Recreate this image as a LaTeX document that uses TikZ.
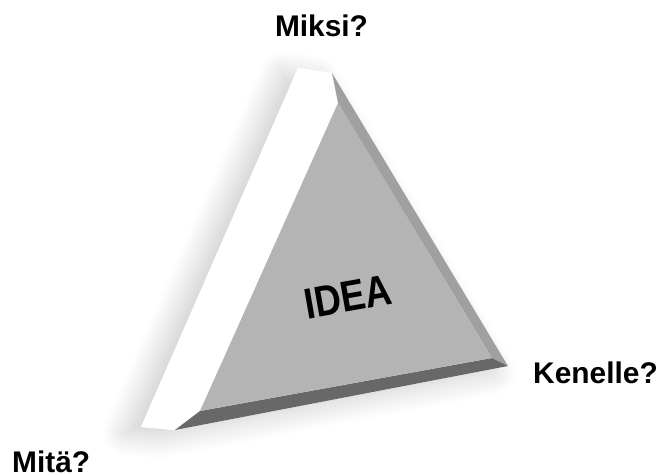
\documentclass[tikz,border=0pt]{standalone}
\usepackage{fontspec}
\setmainfont{Liberation Sans}
\usepackage{xcolor}
\usepackage{tikz}
\usetikzlibrary{shadows.blur}

\definecolor{facegray}{HTML}{B4B4B4}
\definecolor{rimgray}{HTML}{A0A0A0}
\definecolor{rimdark}{HTML}{686868}

\begin{document}
\begin{tikzpicture}[x=0.03cm,y=-0.03cm,every node/.style={font=\bfseries\fontsize{25.5}{30}\selectfont,inner sep=0pt}]
  \useasboundingbox (0,0) rectangle (666,475);
  % outer rim
  \coordinate (ta) at (298,68);
  \coordinate (tb) at (332,73);
  \coordinate (rr) at (508,366);
  \coordinate (bb) at (175,430);
  \coordinate (ba) at (141,427);
  % inner face
  \coordinate (it) at (338,103);
  \coordinate (ir) at (492,358);
  \coordinate (ib) at (200,411);
  \fill[white,blur shadow={shadow xshift=-13pt,shadow yshift=-5pt,shadow blur radius=20pt,shadow blur steps=20,shadow opacity=20}]
    (ta) -- (tb) -- (rr) -- (bb) -- (ba) -- cycle;
  \fill[white] (ta) -- (tb) -- (it) -- (ib) -- (bb) -- (ba) -- cycle;
  \fill[rimgray] (tb) -- (rr) -- (ir) -- (it) -- cycle;
  \fill[rimdark] (ib) -- (ir) -- (rr) -- (bb) -- cycle;
  \fill[facegray] (it) -- (ir) -- (ib) -- cycle;
  \node[font=\bfseries\fontsize{37}{40}\selectfont,rotate=10,xscale=0.85] (idea) at (348,297) {IDEA};
  \node[anchor=base] (why) at (321.5,36) {Miksi?};
  \node[anchor=base west] (whom) at (533,383) {Kenelle?};
  \node[anchor=base west,text depth=0pt] (what) at (12,472) {Mitä?};
\end{tikzpicture}
\end{document}
